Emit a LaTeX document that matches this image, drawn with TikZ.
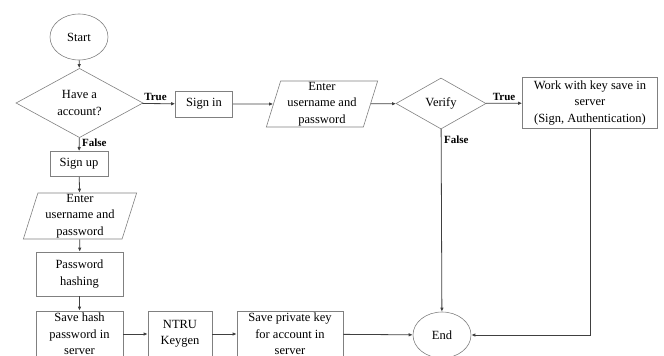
\documentclass[tikz,border=0pt]{standalone}
\usepackage{fontspec}
\setmainfont{Liberation Serif}
\usetikzlibrary{shapes.geometric,arrows.meta}

\begin{document}
\begin{tikzpicture}[x=1pt, y=-1pt,
  box/.style={draw=black!50, line width=0.6pt, rectangle, align=center, inner sep=1pt},
  io/.style={draw=black!50, line width=0.6pt, trapezium, trapezium left angle=75, trapezium right angle=105,
    trapezium stretches=true, align=center, inner sep=1pt},
  decision/.style={draw=black!50, line width=0.6pt, diamond, align=center, inner sep=0pt},
  terminal/.style={draw=black!50, line width=0.6pt, ellipse, inner sep=0pt, minimum width=58, minimum height=46},
  flow/.style={draw=black!75, line width=0.8pt, -{Latex[length=4pt,width=3.5pt]}},
  lbl/.style={font=\fontsize{11}{13}\selectfont\bfseries, inner sep=2.5pt}
]
\fontsize{12.5}{16.5}\selectfont
\clip (0,0) rectangle (664,356);

% sign up branch
\node[terminal] (start) at (79,37) {Start};
\node[decision, minimum width=127, minimum height=53] (have) at (79.5,103) {Have a\\account?};
\node[box, minimum width=58, minimum height=25] (signup) at (79,164) {Sign up};
\node[io, minimum width=114, minimum height=46] (enter1) at (80,216) {Enter\\username and\\password};
\node[box, minimum width=87, minimum height=44] (hash) at (79.5,274) {Password\\hashing};
\node[box, minimum width=87, minimum height=46] (savehash) at (79.5,334) {Save hash\\password in\\server};
\node[box, minimum width=64, minimum height=46] (keygen) at (180,334) {NTRU\\Keygen};
\node[box, minimum width=106, minimum height=46] (savekey) at (290,334) {Save private key\\for account in\\server};
\node[terminal] (end) at (442,335) {End};

% sign in branch
\node[box, minimum width=57, minimum height=26] (signin) at (204,104) {Sign in};
\node[io, minimum width=112, minimum height=46] (enter2) at (322,104) {Enter\\username and\\password};
\node[decision, minimum width=90, minimum height=51] (verify) at (441,103.5) {Verify};
\node[box, minimum width=135, minimum height=51] (work) at (590,103) {Work with key save in\\server\\(Sign, Authentication)};

\draw[flow] (start) -- (have);
\draw[flow] (have) -- node[lbl, pos=0.4, above] {True} (signin);
\draw[flow] (have) -- node[lbl, pos=0.4, right] {False} (signup);
\draw[flow] (signup) -- (enter1);
\draw[flow] (enter1) -- (hash);
\draw[flow] (hash) -- (savehash);
\draw[flow] (savehash) -- (keygen);
\draw[flow] (keygen) -- (savekey);
\draw[flow] (savekey) -- (end);
\draw[flow] (signin) -- (enter2);
\draw[flow] (enter2) -- (verify);
\draw[flow] (verify) -- node[lbl, midway, above] {True} (work);
\draw[flow] (verify) -- node[lbl, pos=0.06, right] {False} (end);
\draw[flow] (work.south) |- (end.east);
\end{tikzpicture}
\end{document}
